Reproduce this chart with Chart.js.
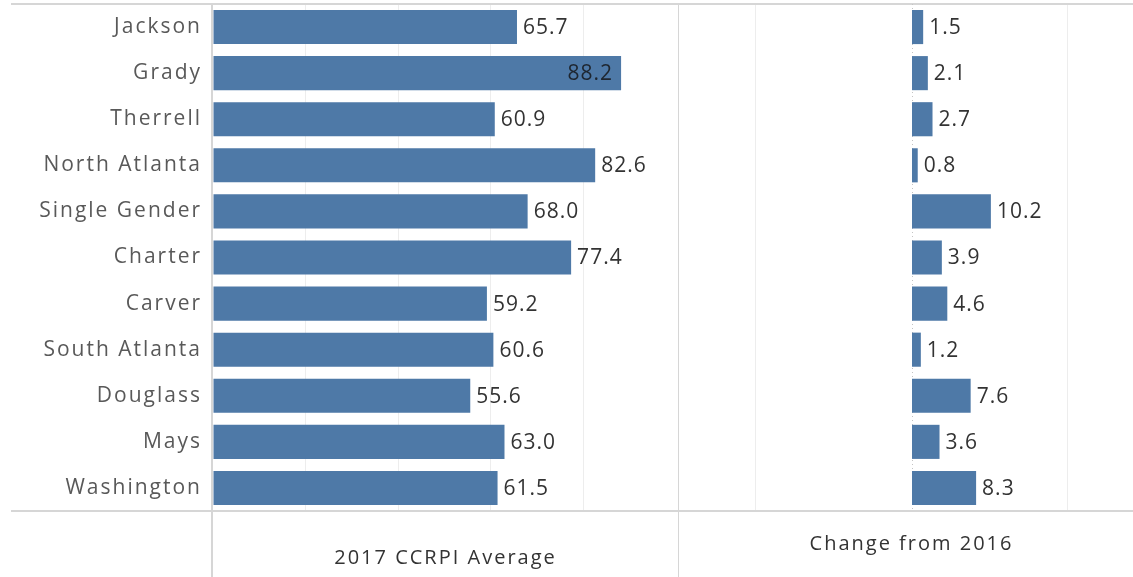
<!DOCTYPE html>
<html>
<head>
<meta charset="utf-8">
<script src="https://cdn.jsdelivr.net/npm/chart.js@4.4.0/dist/chart.umd.min.js"></script>
<style>
  html, body { margin: 0; padding: 0; background: #fff; overflow: hidden; }
  #wrap { display: flex; width: 1145px; height: 577px; }
  canvas { display: block; }
</style>
</head>
<body>
<div id="wrap">
  <canvas id="avgChart" width="678" height="577"></canvas>
  <canvas id="changeChart" width="467" height="577"></canvas>
</div>
<script>
const schools    = ['Jackson', 'Grady', 'Therrell', 'North Atlanta', 'Single Gender', 'Charter',
                    'Carver', 'South Atlanta', 'Douglass', 'Mays', 'Washington']
const avg2017    = [65.7, 88.2, 60.9, 82.6, 68.0, 77.4, 59.2, 60.6, 55.6, 63.0, 61.5]
const change2016 = [1.5, 2.1, 2.7, 0.8, 10.2, 3.9, 4.6, 1.2, 7.6, 3.6, 8.3]
const avgGrid    = [20, 40, 60, 80]
const changeGrid = [-20, 20]

const BAR   = '#4e79a7'
const LINE  = '#d6d6d6'
const GRID  = '#ededed'
const FONT  = '"Open Sans", "DejaVu Sans", sans-serif'

Chart.defaults.font.family = FONT
Chart.defaults.animation = false

// Tableau's font is wide, so spread the glyphs a bit
const spacing = {
  id: 'spacing',
  beforeLayout(chart) { chart.ctx.letterSpacing = '2px' },
  beforeDraw(chart)   { chart.ctx.letterSpacing = '2px' }
}

const frame = (leftPanel) => ({
  id: 'frame',
  beforeDatasetsDraw(chart) {
    const { ctx, chartArea: a, width, height } = chart
    ctx.save()
    ctx.strokeStyle = LINE
    ctx.lineWidth = 2
    ctx.beginPath()
    const x0 = leftPanel ? 11 : 0
    ctx.moveTo(x0, 4);        ctx.lineTo(width, 4)
    ctx.moveTo(x0, a.bottom); ctx.lineTo(width, a.bottom)
    if (leftPanel) {
      ctx.moveTo(a.left - 1, 4); ctx.lineTo(a.left - 1, height)
    } else {
      ctx.moveTo(0, 4); ctx.lineTo(0, height)
    }
    ctx.stroke()
    if (!leftPanel) {
      const zx = Math.round(chart.scales.x.getPixelForValue(0)) + 0.5
      ctx.strokeStyle = '#c4c4c4'
      ctx.lineWidth = 1
      ctx.setLineDash([1, 3])
      ctx.beginPath()
      ctx.moveTo(zx, a.top); ctx.lineTo(zx, a.bottom)
      ctx.stroke()
    }
    ctx.restore()
  }
})

const valueLabels = {
  id: 'valueLabels',
  afterDatasetsDraw(chart) {
    const { ctx, chartArea: a } = chart
    const data = chart.data.datasets[0].data
    ctx.save()
    ctx.font = `21px ${FONT}`
    ctx.letterSpacing = '1px'
    ctx.textBaseline = 'middle'
    chart.getDatasetMeta(0).data.forEach((bar, i) => {
      const txt = data[i].toFixed(1)
      const w = ctx.measureText(txt).width
      if (bar.x + 7 + w > a.right - 6) {
        ctx.textAlign = 'right'
        ctx.fillStyle = '#1e2630'
        ctx.fillText(txt, bar.x - 8, bar.y + 1)
      } else {
        ctx.textAlign = 'left'
        ctx.fillStyle = '#333333'
        ctx.fillText(txt, bar.x + 6, bar.y + 1)
      }
    })
    ctx.restore()
  }
}

function makeChart(id, values, opts) {
  return new Chart(document.getElementById(id), {
    type: 'bar',
    data: {
      labels: schools,
      datasets: [{
        data: values,
        backgroundColor: BAR,
        borderWidth: 0,
        barPercentage: 1,
        categoryPercentage: 0.74
      }]
    },
    options: {
      indexAxis: 'y',
      responsive: false,
      layout: { padding: { top: 4, right: 0, bottom: 0, left: 0 } },
      plugins: { legend: { display: false }, tooltip: { enabled: false } },
      scales: {
        x: {
          min: opts.min,
          max: opts.max,
          ticks: { display: false, stepSize: 10 },
          grid: {
            drawTicks: false,
            lineWidth: 1,
            color: (c) => opts.grid.includes(c.tick && c.tick.value) ? GRID : 'rgba(0,0,0,0)'
          },
          border: { display: false },
          title: {
            display: true,
            text: opts.title,
            color: '#333333',
            font: { size: 20 },
            padding: { top: 0, bottom: opts.titlePad }
          },
          afterFit: (s) => { s.height = 66 }
        },
        y: {
          display: opts.showLabels,
          ticks: { color: '#595959', font: { size: 21 }, padding: 11 },
          grid: { display: false, drawTicks: false },
          border: { display: false },
          afterFit: (s) => {
            s.width = opts.showLabels ? 213 : 0
            s.paddingTop = 0
            s.paddingBottom = 0
          }
        }
      }
    },
    plugins: [spacing, frame(opts.showLabels), valueLabels]
  })
}

makeChart('avgChart', avg2017, {
  min: 0, max: 100.5, grid: avgGrid, title: '2017 CCRPI Average', titlePad: 7, showLabels: true
})
makeChart('changeChart', change2016, {
  min: -30, max: 30, grid: changeGrid, title: 'Change from 2016', titlePad: 21, showLabels: false
})
</script>
</body>
</html>
